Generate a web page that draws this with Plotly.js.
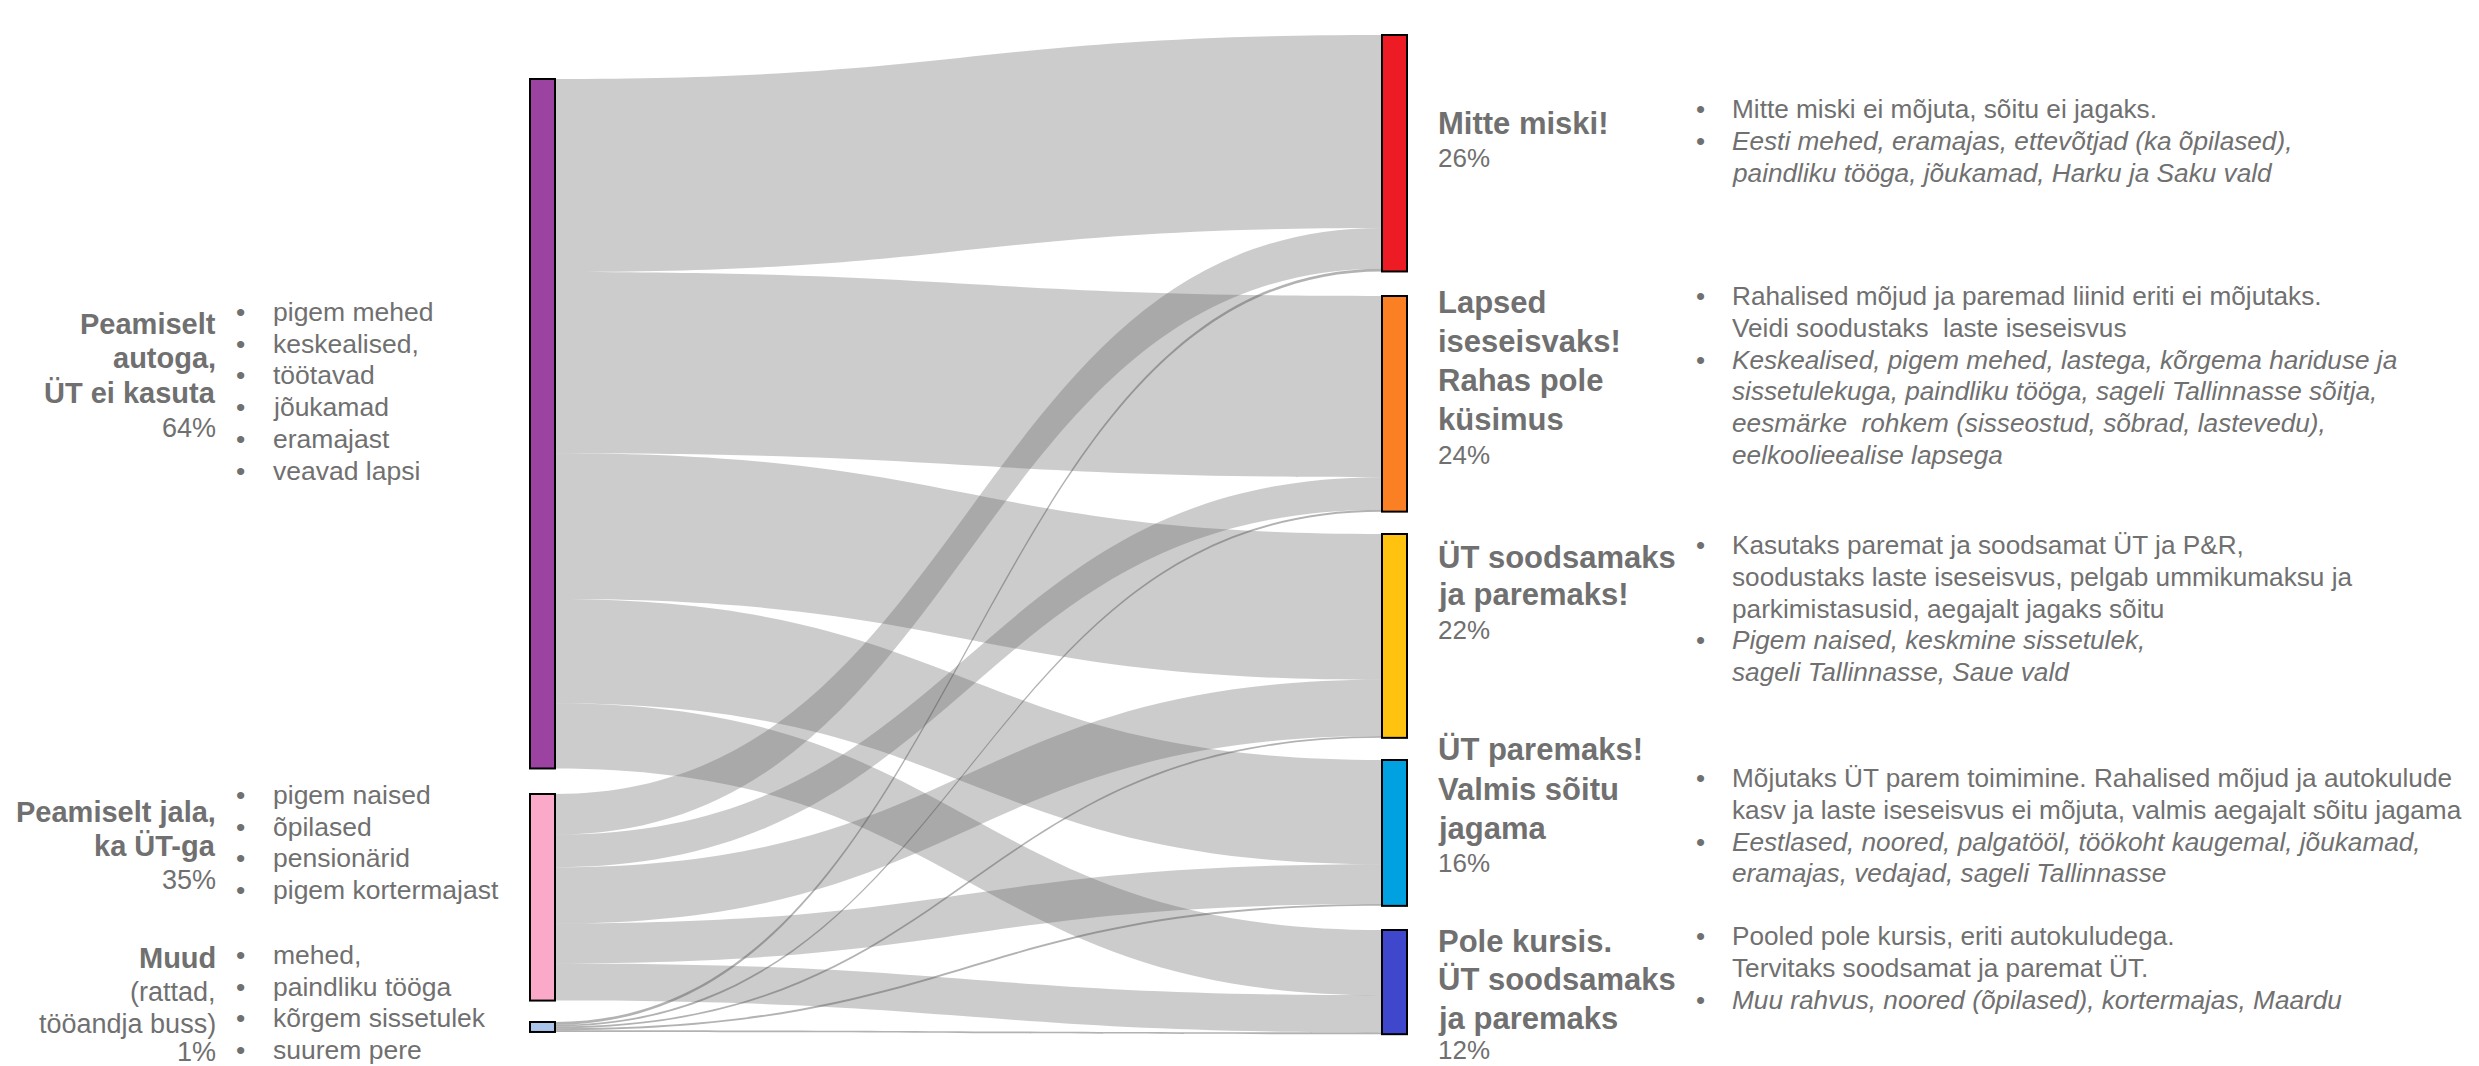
<!DOCTYPE html>
<html>
<head>
<meta charset="utf-8">
<script src="https://cdn.plot.ly/plotly-3.0.1.min.js"></script>
<style>
  html, body { margin: 0; padding: 0; background: #ffffff; }
  #chart { width: 2479px; height: 1066px; }
</style>
</head>
<body>
<div id="chart"></div>
<script>
// ---------------- DATA ----------------
const sourceLabels = ["Peamiselt autoga, ÜT ei kasuta", "Peamiselt jala, ka ÜT-ga", "Muud (rattad, tööandja buss)"];
const targetLabels = ["Mitte miski!", "Lapsed iseseisvaks! Rahas pole küsimus", "ÜT soodsamaks ja paremaks!",
                      "ÜT paremaks! Valmis sõitu jagama", "Pole kursis. ÜT soodsamaks ja paremaks"];
// flow values (share of respondents, %) from each source to the five targets
const fromAuto  = [21.3, 20.0, 16.1, 11.5, 7.2];
const fromWalk  = [4.5, 3.6, 6.2, 4.4, 4.1];
const fromOther = [0.3, 0.2, 0.2, 0.2, 0.2];

const sourcePct = ["64%", "35%", "1%"];
const targetPct = ["26%", "24%", "22%", "16%", "12%"];

const sourceTitles = [
  ["Peamiselt", "autoga,", "ÜT ei kasuta"],
  ["Peamiselt jala,", "ka ÜT-ga"],
  ["Muud"]
];
const sourceSubtitles = [[], [], ["(rattad,", "tööandja buss)"]];
const sourceTraits = [
  ["pigem mehed", "keskealised,", "töötavad", "jõukamad", "eramajast", "veavad lapsi"],
  ["pigem naised", "õpilased", "pensionärid", "pigem kortermajast"],
  ["mehed,", "paindliku tööga", "kõrgem sissetulek", "suurem pere"]
];
const targetTitles = [
  ["Mitte miski!"],
  ["Lapsed", "iseseisvaks!", "Rahas pole", "küsimus"],
  ["ÜT soodsamaks", "ja paremaks!"],
  ["ÜT paremaks!", "Valmis sõitu", "jagama"],
  ["Pole kursis.", "ÜT soodsamaks", "ja paremaks"]
];
// each description: list of [text, italic, bullet]
const targetNotes = [
  [["Mitte miski ei mõjuta, sõitu ei jagaks.", false, true],
   ["Eesti mehed, eramajas, ettevõtjad (ka õpilased),", true, true],
   ["paindliku tööga, jõukamad, Harku ja Saku vald", true, false]],
  [["Rahalised mõjud ja paremad liinid eriti ei mõjutaks.", false, true],
   ["Veidi soodustaks  laste iseseisvus", false, false],
   ["Keskealised, pigem mehed, lastega, kõrgema hariduse ja", true, true],
   ["sissetulekuga, paindliku tööga, sageli Tallinnasse sõitja,", true, false],
   ["eesmärke  rohkem (sisseostud, sõbrad, lastevedu),", true, false],
   ["eelkoolieealise lapsega", true, false]],
  [["Kasutaks paremat ja soodsamat ÜT ja P&R,", false, true],
   ["soodustaks laste iseseisvus, pelgab ummikumaksu ja", false, false],
   ["parkimistasusid, aegajalt jagaks sõitu", false, false],
   ["Pigem naised, keskmine sissetulek,", true, true],
   ["sageli Tallinnasse, Saue vald", true, false]],
  [["Mõjutaks ÜT parem toimimine. Rahalised mõjud ja autokulude", false, true],
   ["kasv ja laste iseseisvus ei mõjuta, valmis aegajalt sõitu jagama", false, false],
   ["Eestlased, noored, palgatööl, töökoht kaugemal, jõukamad,", true, true],
   ["eramajas, vedajad, sageli Tallinnasse", true, false]],
  [["Pooled pole kursis, eriti autokuludega.", false, true],
   ["Tervitaks soodsamat ja paremat ÜT.", false, false],
   ["Muu rahvus, noored (õpilased), kortermajas, Maardu", true, true]]
];

// ---------------- STYLE / LAYOUT ----------------
const W = 2479, H = 1066;
const FONT = "Liberation Sans, Arial, Helvetica, sans-serif";
const GREY = "#707070";
const nodeColors = ["#9c42a0", "#fba9c9", "#a9c5e9", "#ed1c24", "#fb7f23", "#ffc20e", "#00a1e1", "#3f48cc"];
const nodeLineColors = ["#4d5d92", "#4d5d92", "#6a86ad", "#c2613c", "#c27c4e", "#4f7b2f", "#2f7d5e", "#6f8c7e"];
const linkColor = "rgba(95,95,95,0.32)";
const thinLinkColor = "rgba(85,85,85,0.45)";

const NODE_T = 25, PAD = 40;
const srcCenterX = 542.5, tgtCenterX = 1394.5;
const srcTopPx = [79, 794, 1022];
const tgtTopPx = [35, 296, 534, 760, 930];

// ---------------- BUILD SANKEY ----------------
const flows = [fromAuto, fromWalk, fromOther];
const srcIdx = [], tgtIdx = [], vals = [], lcol = [];
flows.forEach((row, s) => row.forEach((v, t) => {
  srcIdx.push(s); tgtIdx.push(3 + t); vals.push(v);
  lcol.push(s === 2 ? thinLinkColor : linkColor);
}));

const total = vals.reduce((a, b) => a + b, 0);
const ky = (H - 4 * PAD) / total;
const srcTotals = flows.map(r => r.reduce((a, b) => a + b, 0));
const tgtTotals = targetLabels.map((_, t) => flows.reduce((a, r) => a + r[t], 0));

const nodeX = [], nodeY = [];
srcTotals.forEach((v, i) => { nodeX.push(srcCenterX / W); nodeY.push((srcTopPx[i] + v * ky / 2) / H); });
tgtTotals.forEach((v, i) => { nodeX.push(tgtCenterX / W); nodeY.push((tgtTopPx[i] + v * ky / 2) / H); });

const trace = {
  type: "sankey",
  arrangement: "fixed",
  domain: { x: [0, 1], y: [0, 1] },
  hoverinfo: "none",
  node: {
    label: sourceLabels.concat(targetLabels).map(() => ""),
    color: nodeColors,
    line: { color: nodeLineColors, width: 2 },
    thickness: NODE_T,
    pad: PAD,
    x: nodeX,
    y: nodeY,
    hoverinfo: "none"
  },
  link: {
    source: srcIdx,
    target: tgtIdx,
    value: vals,
    color: lcol,
    line: { color: "rgba(0,0,0,0)", width: 0 },
    hoverinfo: "none"
  }
};

// ---------------- ANNOTATIONS ----------------
const ann = [];
function txt(text, xpx, ypx, size, opts) {
  opts = opts || {};
  ann.push({
    xref: "paper", yref: "paper",
    x: xpx / W, y: 1 - ypx / H,
    xanchor: opts.anchor || "left", yanchor: "middle",
    text: text, showarrow: false, align: opts.anchor === "right" ? "right" : "left",
    font: { family: FONT, size: size, color: GREY },
    borderpad: 0
  });
}
const B = s => "<b>" + s + "</b>";
const I = s => "<i>" + s + "</i>";

// left side: source titles
const srcTitleY = [[324, 358, 393, 428], [812, 846, 880], [958, 992, 1024, 1052]];
sourceTitles.forEach((lines, i) => {
  let k = 0;
  lines.forEach(l => { txt(B(l), 217, srcTitleY[i][k++], 29, { anchor: "right" }); });
  sourceSubtitles[i].forEach(l => { txt(l, 217, srcTitleY[i][k++], 27, { anchor: "right" }); });
  txt(sourcePct[i], 217, srcTitleY[i][k], 27, { anchor: "right" });
});
const traitStartY = [312, 795, 955];
const traitStep = 31.7;
sourceTraits.forEach((items, i) => {
  items.forEach((it, j) => {
    const y = traitStartY[i] + j * traitStep;
    txt("•", 235, y, 26.5);
    txt(it, 272, y, 26.5);
  });
});

// right side: target titles
const tgtTitleY = [[123, 158], [302, 341, 380, 419, 455], [557, 594, 630], [749, 789, 828, 863], [941, 980, 1018, 1050]];
targetTitles.forEach((lines, i) => {
  lines.forEach((l, j) => txt(B(l), 1437, tgtTitleY[i][j], 31));
  txt(targetPct[i], 1437, tgtTitleY[i][lines.length], 26);
});

// right side: descriptions
const noteStartY = [109, 296, 545, 778, 936];
const noteStep = 31.8;
targetNotes.forEach((lines, i) => {
  lines.forEach((ln, j) => {
    const y = noteStartY[i] + j * noteStep;
    if (ln[2]) txt("•", 1695, y, 26);
    txt(ln[1] ? I(ln[0]) : ln[0], 1731, y, 26.2);
  });
});

const layout = {
  width: W, height: H,
  margin: { l: 0, r: 0, t: 0, b: 0 },
  paper_bgcolor: "#ffffff",
  plot_bgcolor: "#ffffff",
  font: { family: FONT, color: GREY },
  annotations: ann,
  showlegend: false
};

Plotly.newPlot("chart", [trace], layout, { displayModeBar: false, staticPlot: true });
</script>
</body>
</html>
